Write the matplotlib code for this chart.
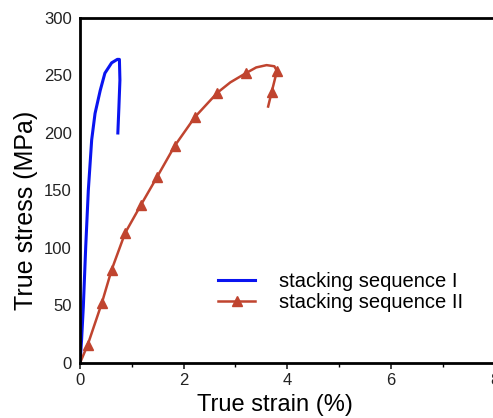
import matplotlib.pyplot as plt

plt.rcParams['font.family'] = ['Liberation Sans', 'DejaVu Sans']

# stacking sequence I (strain %, stress MPa)
strain_1 = [0.0, 0.03, 0.064, 0.11, 0.16, 0.225, 0.29, 0.39, 0.48, 0.61, 0.72, 0.76, 0.77, 0.75, 0.73]
stress_1 = [0, 20, 49, 101, 150, 194, 217, 237, 252, 261, 264, 264, 246, 222, 200]

# stacking sequence II
strain_2 = [0.0, 0.15, 0.42, 0.61, 0.87, 1.17, 1.49, 1.83, 2.22, 2.65, 2.9, 3.2, 3.4, 3.6, 3.75, 3.8, 3.75, 3.7, 3.63]
stress_2 = [0, 16, 52, 81, 113, 137, 162, 189, 214, 235, 244, 252, 257, 259, 258, 254, 245, 236, 223]
marker_idx = [1, 2, 3, 4, 5, 6, 7, 8, 9, 11, 15, 17]

fig = plt.figure(figsize=(4.93, 4.18), dpi=100)
ax = fig.add_axes([0.1623, 0.1316, 0.841, 0.8254])

ax.plot(strain_1, stress_1, color='#0a14f0', lw=2.2, label='stacking sequence I')
ax.plot(strain_2, stress_2, color='#c0442f', lw=1.8, marker='^', ms=7.5,
        markevery=marker_idx, label='stacking sequence II')

ax.set_xlim(0, 8)
ax.set_ylim(0, 300)
ax.set_xticks([0, 2, 4, 6, 8])
ax.set_xticks([1, 3, 5, 7], minor=True)
ax.set_yticks(range(0, 301, 50))
ax.tick_params(labelsize=12, direction='out', length=4, width=1.2, colors='#222222')
ax.tick_params(which='minor', length=3, width=1)
ax.tick_params(axis='y', length=0, pad=6)

for side in ['left', 'bottom', 'top']:
    ax.spines[side].set_linewidth(2)
ax.spines['right'].set_visible(False)

ax.set_xlabel('True strain (%)', fontsize=17, labelpad=4, x=0.471)
ax.set_ylabel('True stress (MPa)', fontsize=18, labelpad=4, y=0.443)

ax.legend(loc='upper left', bbox_to_anchor=(0.333, 0.265), frameon=False,
          fontsize=14.5, handlelength=1.84, handletextpad=1.19, labelspacing=0.1,
          borderpad=0, borderaxespad=0)

fig.savefig('out.png', dpi=100)
